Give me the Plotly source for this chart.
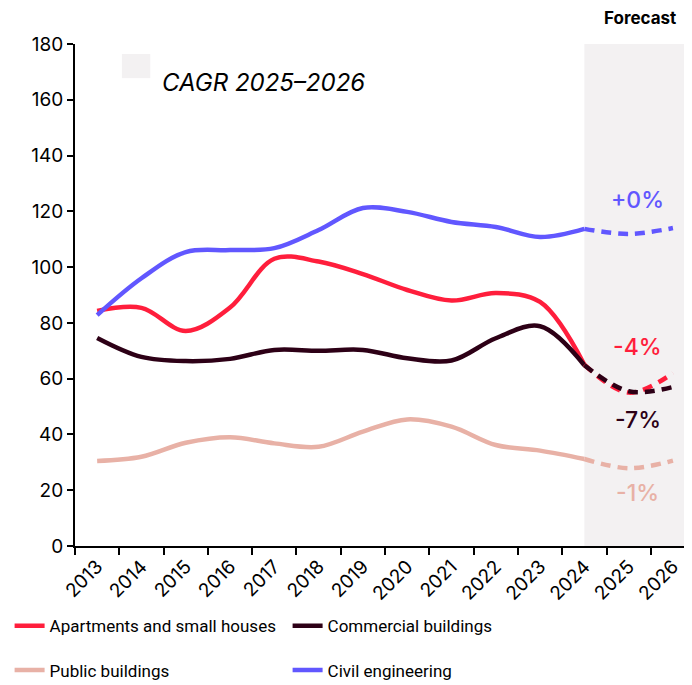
"""Construction volume index with 2025-2026 forecast."""

import plotly.graph_objects as go

years = [str(y) for y in range(2013, 2027)]

apartments = [84.3, 85.4, 77.1, 85.5, 103.0, 102.0, 97.5, 91.8, 88.0, 90.7, 87.5, 65.0, 55.0, 62.0]
commercial = [74.6, 67.8, 66.3, 67.1, 70.3, 70.0, 70.3, 67.3, 66.5, 74.5, 78.8, 64.8, 55.5, 57.0]
public = [30.5, 32.0, 37.0, 39.0, 36.8, 35.6, 41.0, 45.4, 42.8, 36.2, 34.2, 31.2, 27.9, 30.6]
civil = [82.8, 96.0, 105.4, 106.1, 106.8, 113.3, 121.2, 119.8, 116.2, 114.4, 110.8, 113.7, 111.9, 114.0]

series = ["Apartments and small houses", "Commercial buildings", "Public buildings", "Civil engineering"]
values = [apartments, commercial, public, civil]
colors = ["#ff1e3c", "#2d0016", "#e8b1a6", "#6157ff"]
cagr = ["-4%", "-7%", "-1%", "+0%"]
cagr_y = [71.4, 45.2, 19.0, 124.0]

FORECAST_START = 11  # index of 2024, last actual year
FONT = "Inter, Roboto, sans-serif"
LEGEND_FONT = "Roboto, sans-serif"

fig = go.Figure()

# forecast shading
fig.add_shape(
    type="rect", xref="x", yref="y", x0=FORECAST_START, x1=13.6, y0=0, y1=180,
    fillcolor="#f3f1f2", line_width=0, layer="below",
)

legend_ids = ["legend", "legend", "legend2", "legend2"]
for name, vals, color, lg in zip(series, values, colors, legend_ids):
    fig.add_trace(go.Scatter(
        x=years[: FORECAST_START + 1], y=vals[: FORECAST_START + 1], name=name,
        mode="lines", line=dict(color=color, width=4.5, shape="spline"),
        legend=lg,
    ))
for name, vals, color in zip(series, values, colors):
    fig.add_trace(go.Scatter(
        x=years[FORECAST_START:], y=vals[FORECAST_START:], name=name,
        mode="lines", line=dict(color=color, width=4.5, shape="spline", dash="10px,7px"),
        showlegend=False,
    ))

for label, yv, color in zip(cagr, cagr_y, colors):
    fig.add_annotation(
        x=12.2, y=yv, xref="x", yref="y", text=label, showarrow=False,
        font=dict(family=FONT, size=23, color=color, weight=500),
    )

fig.add_annotation(
    x=12.25, y=1.0, xref="x", yref="paper", yanchor="bottom", yshift=14,
    text="<b>Forecast</b>", showarrow=False,
    font=dict(family=FONT, size=17, color="black"),
)

# CAGR key
fig.add_shape(
    type="rect", xref="paper", yref="paper", x0=0.076, x1=0.122, y0=0.932, y1=0.98,
    fillcolor="#f3f1f2", line_width=0,
)
fig.add_annotation(
    x=0.138, y=0.957, xref="paper", yref="paper", xanchor="left",
    text="<i>CAGR 2025–2026</i>", showarrow=False,
    font=dict(family=FONT, size=24, color="black"),
)

legend_style = dict(
    orientation="h", xanchor="left", yanchor="top", entrywidth=233,
    font=dict(family=LEGEND_FONT, size=17, color="black"),
    bgcolor="rgba(0,0,0,0)",
)

# page body has an 8px margin, so the figure is offset by 8px
fig.update_layout(
    width=692,
    height=685,
    margin=dict(l=67, r=8, t=36, b=147, autoexpand=False),
    plot_bgcolor="white",
    paper_bgcolor="white",
    font=dict(family=FONT, size=19, color="black"),
    legend=dict(x=-0.106, y=-0.124, **legend_style),
    legend2=dict(x=-0.106, y=-0.212, **legend_style),
    xaxis=dict(
        type="category", range=[-0.5, 13.43], tickson="boundaries",
        tickangle=-45, ticks="outside", ticklen=7, tickwidth=2, tickcolor="black",
        showline=True, linecolor="black", linewidth=2, showgrid=False,
        tickfont=dict(size=19),
    ),
    yaxis=dict(
        range=[0, 180], dtick=20, ticks="outside", ticklen=6, tickwidth=2,
        tickcolor="black", showline=True, linecolor="black", linewidth=2,
        showgrid=False, zeroline=False, tickfont=dict(size=19),
    ),
)

fig.write_html("out.html")
